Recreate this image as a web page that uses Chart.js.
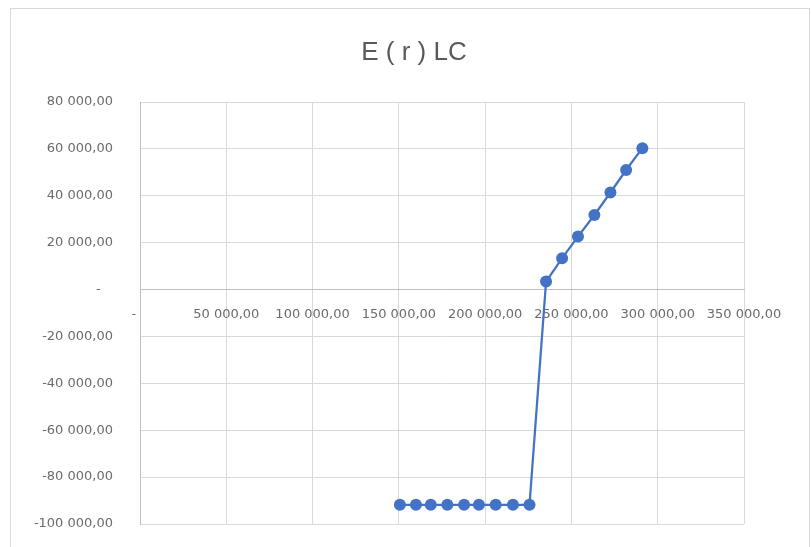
<!DOCTYPE html>
<html>
<head>
<meta charset="utf-8">
<script src="https://cdn.jsdelivr.net/npm/chart.js@4"></script>
<style>
  html, body { margin: 0; padding: 0; background: #fff; }
  #wrap { position: relative; width: 811px; height: 547px; }
</style>
</head>
<body>
<div id="wrap"><canvas id="chart" width="811" height="547"></canvas></div>
<script>
// --- Daten ---
const chartTitle = "E ( r ) LC";
const lcX = [150600, 159900, 168500, 178100, 187800, 196400, 206100, 216100, 225700,
             235300, 244600, 253800, 263300, 272600, 281700, 291100];
const lcY = [-91800, -91800, -91800, -91800, -91800, -91800, -91800, -91800, -91800,
             3400, 13400, 22600, 31800, 41400, 51000, 60300];
const xTicks = [0, 50000, 100000, 150000, 200000, 250000, 300000, 350000];
const yTicks = [-100000, -80000, -60000, -40000, -20000, 0, 20000, 40000, 60000, 80000];

const BLUE = "#4472C4";
const TEXT = "#6b6b6b";
const GRID = "#d9d9d9";
const AXIS = "#bfbfbf";
const FONT = "'DejaVu Sans', sans-serif";

// Excel Buchhaltungsformat: "50 000,00", Null als "-"
function fmt(v, pad){
    if(v===0) return "-" + "\u00a0".repeat(pad);
    const neg = v<0;
    const s = Math.abs(v).toFixed(2).split(".");
    const int = s[0].replace(/\B(?=(\d{3})+(?!\d))/g, " ");
    return (neg?"-":"") + int + "," + s[1];
}

// Rahmen + Titel
const framePlugin = {
    id: "frame",
    beforeDraw(chart){
        const ctx = chart.ctx;
        ctx.save();
        ctx.fillStyle = "#fff";
        ctx.fillRect(0,0,chart.width,chart.height);
        ctx.strokeStyle = GRID;
        ctx.lineWidth = 1;
        ctx.strokeRect(10.5, 8.5, 799, 600);
        ctx.restore();
    },
    afterDraw(chart){
        const ctx = chart.ctx;
        ctx.save();
        ctx.fillStyle = "#595959";
        ctx.font = "26px 'Liberation Sans', sans-serif";
        ctx.textAlign = "center";
        ctx.textBaseline = "middle";
        ctx.fillText(chartTitle, 414, 53);
        ctx.restore();
    }
};

const points = lcX.map((x,i)=>({x:x, y:lcY[i]}));

new Chart(document.getElementById("chart"), {
    type: "scatter",
    data: {
        datasets: [{
            label: chartTitle,
            data: points,
            showLine: true,
            borderColor: BLUE,
            backgroundColor: BLUE,
            borderWidth: 2.25,
            pointRadius: 6,
            pointHoverRadius: 6,
            pointBorderWidth: 0
        }]
    },
    options: {
        responsive: false,
        animation: false,
        layout: { padding: { left: 0, right: 67, top: 102, bottom: 23 } },
        plugins: { legend: { display: false }, title: { display: false }, tooltip: { enabled: false } },
        scales: {
            x: {
                type: "linear",
                position: { y: 0 },
                min: 0, max: 350000,
                afterBuildTicks: s => { s.ticks = xTicks.map(v=>({value:v})); },
                grid: { color: GRID, drawTicks: false },
                border: { color: AXIS, width: 1 },
                ticks: {
                    autoSkip: false, maxRotation: 0, padding: 17,
                    color: TEXT, font: { family: FONT, size: 13 },
                    callback: v => fmt(v, 3)
                }
            },
            y: {
                type: "linear",
                position: "left",
                min: -100000, max: 80000,
                afterBuildTicks: s => { s.ticks = yTicks.map(v=>({value:v})); },
                afterFit: s => { s.width = 140; s.paddingTop = 8; s.paddingBottom = 8; },
                grid: { color: GRID, drawTicks: false },
                border: { color: AXIS, width: 1 },
                ticks: {
                    padding: 27,
                    color: TEXT, font: { family: FONT, size: 13 },
                    callback: v => fmt(v, 3)
                }
            }
        }
    },
    plugins: [framePlugin]
});
</script>
</body>
</html>
